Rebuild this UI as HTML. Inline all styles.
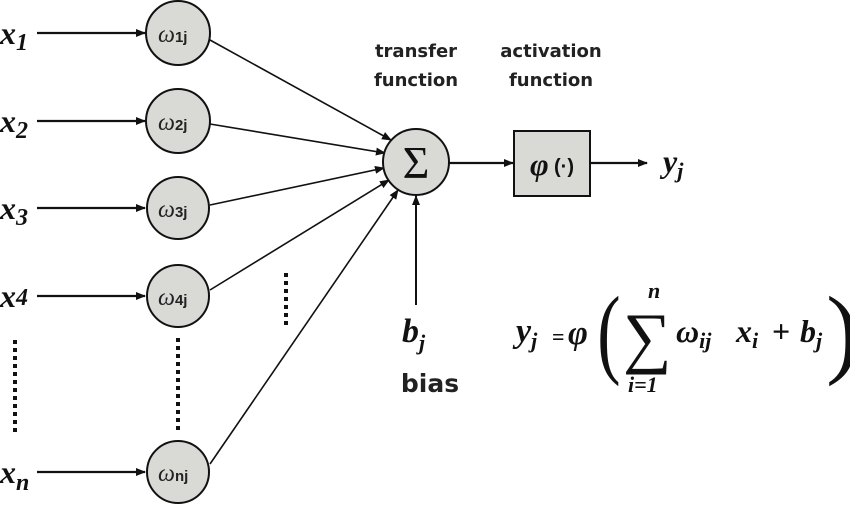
<!DOCTYPE html>
<html><head><style>
body{margin:0;background:#fff;}
svg{display:block}
.m{font-family:"Liberation Serif",serif;font-style:italic;font-weight:bold;}
.s{font-family:"DejaVu Sans","Liberation Sans",sans-serif;font-weight:bold;fill:#222;}
</style></head><body>
<svg width="850" height="513" viewBox="0 0 850 513" xmlns="http://www.w3.org/2000/svg">
<defs><marker id="a" markerWidth="10" markerHeight="8" refX="9" refY="4" orient="auto" markerUnits="userSpaceOnUse"><path d="M0,0 L10,4 L0,8 z" fill="#111"/></marker></defs>
<g stroke="#111" stroke-width="2.2" fill="none">
<line x1="37" y1="33" x2="145" y2="33" marker-end="url(#a)"/>
<line x1="37" y1="121" x2="145" y2="121" marker-end="url(#a)"/>
<line x1="37" y1="208" x2="145" y2="208" marker-end="url(#a)"/>
<line x1="37" y1="296" x2="145" y2="296" marker-end="url(#a)"/>
<line x1="37" y1="472" x2="145" y2="472" marker-end="url(#a)"/>
</g>
<g stroke="#111" stroke-width="1.6" fill="none" marker-end="url(#a)">
<line x1="210" y1="40" x2="391" y2="140"/>
<line x1="210" y1="124" x2="385" y2="153"/>
<line x1="210" y1="205" x2="384" y2="168"/>
<line x1="210" y1="290" x2="389" y2="180"/>
<line x1="210" y1="464" x2="398" y2="190"/>
<line x1="416" y1="305" x2="416" y2="196" stroke-width="2"/>
<line x1="449" y1="163" x2="513" y2="163" stroke-width="2.2"/>
<line x1="590" y1="163" x2="647" y2="163" stroke-width="2.2"/>
</g>
<g fill="#d9d9d6" stroke="#111" stroke-width="2">
<circle cx="178" cy="33" r="32"/>
<circle cx="178" cy="121" r="32"/>
<circle cx="178" cy="208" r="31"/>
<circle cx="178" cy="296" r="31"/>
<circle cx="178" cy="472" r="31"/>
<circle cx="416" cy="162" r="33"/>
<rect x="514" y="131" width="76" height="65"/>
</g>
<g stroke="#111" stroke-width="4" stroke-dasharray="4,4">
<line x1="15" y1="340" x2="15" y2="436"/>
<line x1="178" y1="338" x2="178" y2="434"/>
<line x1="286" y1="273" x2="286" y2="328"/>
</g>
<g class="m" fill="#111" font-size="32">
<text x="0" y="44">x<tspan font-size="24" dy="6">1</tspan></text>
<text x="0" y="132">x<tspan font-size="24" dy="6">2</tspan></text>
<text x="0" y="219">x<tspan font-size="24" dy="6">3</tspan></text>
<text x="0" y="307">x<tspan font-size="24" dy="-2">4</tspan></text>
<text x="0" y="483">x<tspan font-size="24" dy="7">n</tspan></text>
</g>
<g fill="#222" font-family="Liberation Serif,serif" font-style="italic" font-size="24">
<text x="158" y="42">ω<tspan font-size="15" font-style="normal" font-family="Liberation Sans,sans-serif" font-weight="bold">1j</tspan></text>
<text x="158" y="130">ω<tspan font-size="15" font-style="normal" font-family="Liberation Sans,sans-serif" font-weight="bold">2j</tspan></text>
<text x="158" y="217">ω<tspan font-size="15" font-style="normal" font-family="Liberation Sans,sans-serif" font-weight="bold">3j</tspan></text>
<text x="158" y="305">ω<tspan font-size="15" font-style="normal" font-family="Liberation Sans,sans-serif" font-weight="bold">4j</tspan></text>
<text x="158" y="481">ω<tspan font-size="15" font-style="normal" font-family="Liberation Sans,sans-serif" font-weight="bold">nj</tspan></text>
</g>
<text x="416" y="178" text-anchor="middle" font-family="Liberation Serif,serif" font-size="46" fill="#111">Σ</text>
<text x="530" y="175" class="m" font-size="32" fill="#111">φ</text>
<text x="554" y="173" font-family="Liberation Sans,sans-serif" font-weight="bold" font-size="20" fill="#111">(·)</text>
<text x="663" y="172" class="m" font-size="32" fill="#111">y<tspan font-size="22" dy="6">j</tspan></text>
<g class="s" font-size="18" text-anchor="middle">
<text x="416" y="57">transfer</text>
<text x="416" y="86">function</text>
<text x="551" y="57">activation</text>
<text x="551" y="86">function</text>
<text x="430" y="392" font-size="25">bias</text>
</g>
<text x="402" y="342" class="m" font-size="34" fill="#111">b<tspan font-size="22" dy="8">j</tspan></text>
<g class="m" fill="#111">
<text x="516" y="342" font-size="34">y<tspan font-size="22" dy="6">j</tspan></text>
<text x="552" y="344" font-size="22" font-style="normal">=</text>
<text x="568" y="344" font-size="34">φ</text>
<text x="596" y="365" font-size="100" font-weight="normal" font-style="normal" transform="scale(0.7,1)" transform-origin="600 340">(</text>
<text x="623" y="360" font-size="68" font-style="normal" font-weight="normal">∑</text>
<text x="648" y="298" font-size="22">n</text>
<text x="628" y="392" font-size="22">i=1</text>
<text x="676" y="342" font-size="32">ω<tspan font-size="22" dy="6">ij</tspan></text>
<text x="736" y="342" font-size="32">x<tspan font-size="22" dy="6">i</tspan></text>
<text x="772" y="342" font-size="32" font-style="normal">+</text>
<text x="800" y="342" font-size="32">b<tspan font-size="22" dy="6">j</tspan></text>
<text x="826" y="365" font-size="100" font-weight="normal" font-style="normal">)</text>
</g>
</svg>
</body></html>
